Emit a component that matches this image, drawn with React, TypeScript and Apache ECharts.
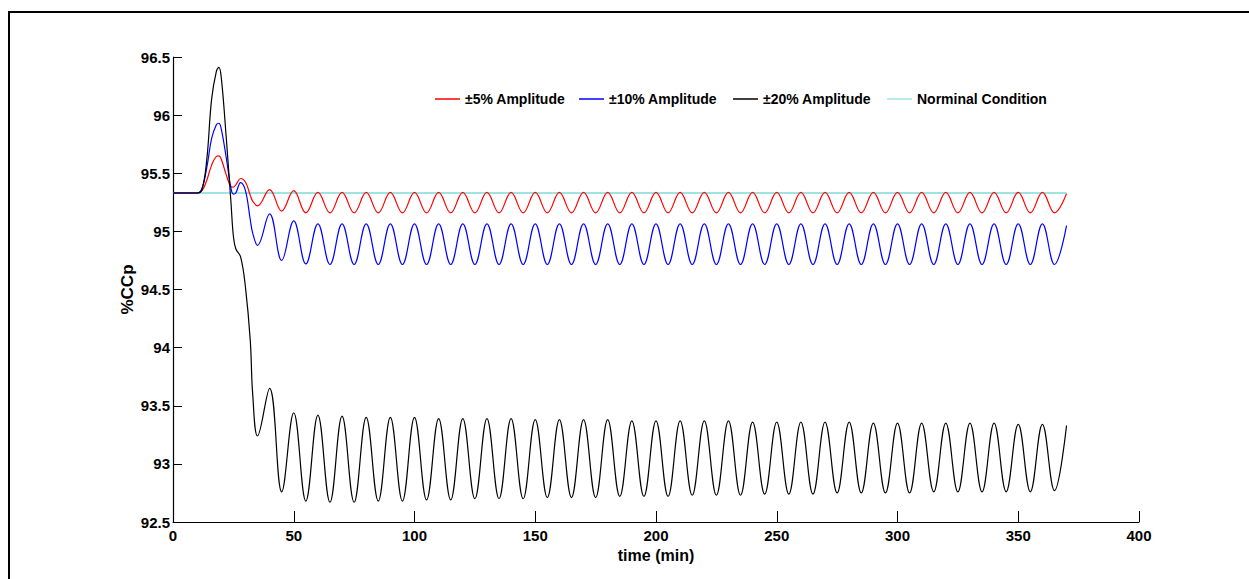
import React, { useEffect, useRef } from "react";
import * as echarts from "echarts";

// time grid (min)
const timeMin = [
  0, 10, 12, 14, 16, 18, 19, 20, 22, 24, 25, 26, 28, 30, 32, 33,
  35, 40, 45, 50, 55, 60, 65, 70, 75, 80, 85, 90, 95, 100, 105, 110, 115, 120,
  125, 130, 135, 140, 145, 150, 155, 160, 165, 170, 175, 180, 185, 190, 195, 200,
  205, 210, 215, 220, 225, 230, 235, 240, 245, 250, 255, 260, 265, 270, 275, 280,
  285, 290, 295, 300, 305, 310, 315, 320, 325, 330, 335, 340, 345, 350, 355, 360,
  365, 370,
];

// ±5% amplitude
const amp5 = [
  95.33, 95.33, 95.35, 95.44, 95.57, 95.645, 95.65, 95.62, 95.49, 95.385, 95.38, 95.40, 95.455, 95.425, 95.31, 95.26,
  95.22, 95.36, 95.175, 95.35, 95.16, 95.335, 95.16, 95.335, 95.16, 95.335, 95.16, 95.335, 95.16, 95.335, 95.16, 95.335, 95.16, 95.335,
  95.16, 95.335, 95.16, 95.335, 95.16, 95.335, 95.16, 95.335, 95.16, 95.335, 95.16, 95.335, 95.16, 95.335, 95.16, 95.335,
  95.16, 95.335, 95.16, 95.335, 95.16, 95.335, 95.16, 95.335, 95.16, 95.335, 95.16, 95.335, 95.16, 95.335, 95.16, 95.335,
  95.16, 95.335, 95.16, 95.335, 95.16, 95.335, 95.16, 95.335, 95.16, 95.335, 95.16, 95.335, 95.16, 95.335, 95.16, 95.335,
  95.16, 95.325,
];

// ±10% amplitude
const amp10 = [
  95.33, 95.33, 95.37, 95.55, 95.80, 95.92, 95.93, 95.88, 95.64, 95.37, 95.32, 95.33, 95.42, 95.35, 95.10, 94.985,
  94.88, 95.15, 94.75, 95.09, 94.72, 95.065, 94.715, 95.065, 94.715, 95.065, 94.715, 95.065, 94.715, 95.065, 94.715, 95.065, 94.715, 95.065,
  94.715, 95.065, 94.715, 95.065, 94.715, 95.065, 94.715, 95.065, 94.715, 95.065, 94.715, 95.065, 94.715, 95.065, 94.715, 95.065,
  94.715, 95.065, 94.715, 95.065, 94.715, 95.065, 94.715, 95.065, 94.715, 95.065, 94.715, 95.065, 94.715, 95.065, 94.715, 95.065,
  94.715, 95.065, 94.715, 95.065, 94.715, 95.065, 94.715, 95.065, 94.715, 95.065, 94.715, 95.065, 94.715, 95.065, 94.715, 95.065,
  94.715, 95.05,
];

// ±20% amplitude
const amp20 = [
  95.33, 95.33, 95.36, 95.62, 96.14, 96.38, 96.41, 96.32, 95.82, 95.25, 94.96, 94.85, 94.78, 94.52, 94.06, 93.60,
  93.24, 93.65, 92.76, 93.44, 92.68, 93.42, 92.67, 93.41, 92.67, 93.40, 92.68, 93.40, 92.68, 93.40, 92.69, 93.39, 92.69, 93.39,
  92.70, 93.39, 92.70, 93.39, 92.70, 93.38, 92.71, 93.38, 92.71, 93.38, 92.71, 93.38, 92.72, 93.37, 92.72, 93.37,
  92.72, 93.37, 92.73, 93.37, 92.73, 93.37, 92.73, 93.36, 92.74, 93.36, 92.74, 93.36, 92.74, 93.36, 92.75, 93.36,
  92.75, 93.35, 92.75, 93.35, 92.75, 93.35, 92.76, 93.35, 92.76, 93.35, 92.76, 93.35, 92.76, 93.34, 92.76, 93.34,
  92.77, 93.33,
];

// nominal condition
const nominalTime = [0, 370];
const nominalValue = [95.33, 95.33];

const seriesNames = ["±5% Amplitude", "±10% Amplitude", "±20% Amplitude", "Norminal Condition"];
const seriesColors = ["#ff0000", "#0000ff", "#000000", "#9fe3e3"];
const legendLefts = [430, 574, 728, 882];

const FONT = "'Liberation Sans', Arial, sans-serif";

export default function App() {
  const ref = useRef<HTMLDivElement>(null);
  useEffect(() => {
    if (!ref.current) return;
    const chart = echarts.init(ref.current, undefined, { renderer: "svg" });
    const pairs = (vals: number[]) => timeMin.map((t, i) => [t, vals[i]]);
    const lineSeries = (name: string, data: number[][], color: string, width: number) => ({
      name,
      type: "line",
      data,
      smooth: 0.4,
      symbol: "none",
      showSymbol: false,
      lineStyle: { color, width },
      itemStyle: { color },
    });
    chart.setOption({
      animation: false,
      backgroundColor: "#ffffff",
      textStyle: { fontFamily: FONT },
      grid: { left: 173, right: 110, top: 57, bottom: 57, containLabel: false },
      legend: seriesNames.map((n, i) => ({
        data: [n],
        left: legendLefts[i],
        top: 87,
        icon: "rect",
        itemWidth: 25,
        itemHeight: 1.5,
        itemGap: 0,
        textStyle: { fontFamily: FONT, fontWeight: "bold", fontSize: 14, color: "#000" },
        selectedMode: false,
      })),
      xAxis: {
        type: "value",
        min: 0,
        max: 400,
        interval: 50,
        name: "time (min)",
        nameLocation: "middle",
        nameGap: 24,
        nameTextStyle: { fontFamily: FONT, fontWeight: "bold", fontSize: 16, color: "#000" },
        axisLine: { show: true, onZero: false, lineStyle: { color: "#000", width: 1.2 } },
        axisTick: { show: true, inside: true, length: 11, lineStyle: { color: "#000", width: 1 } },
        axisLabel: { margin: 6, fontFamily: FONT, fontWeight: "bold", fontSize: 15, color: "#000" },
        splitLine: { show: false },
      },
      yAxis: {
        type: "value",
        min: 92.5,
        max: 96.5,
        interval: 0.5,
        name: "%CCp",
        nameLocation: "middle",
        nameGap: 37,
        nameMoveOverlap: false,
        nameTextStyle: { fontFamily: FONT, fontWeight: "bold", fontSize: 17, color: "#000" },
        axisLine: { show: true, onZero: false, lineStyle: { color: "#000", width: 1.2 } },
        axisTick: { show: true, inside: true, length: 9, lineStyle: { color: "#000", width: 1 } },
        axisLabel: { margin: 3, fontFamily: FONT, fontWeight: "bold", fontSize: 15, color: "#000" },
        splitLine: { show: false },
      },
      graphic: [
        {
          type: "rect",
          shape: { x: 9, y: 12, width: 1300, height: 620 },
          style: { fill: "none", stroke: "#000", lineWidth: 2 },
          silent: true,
        },
      ],
      series: [
        {
          name: seriesNames[3],
          type: "line",
          data: nominalTime.map((t, i) => [t, nominalValue[i]]),
          symbol: "none",
          showSymbol: false,
          lineStyle: { color: seriesColors[3], width: 2 },
          itemStyle: { color: seriesColors[3] },
        },
        lineSeries(seriesNames[0], pairs(amp5), seriesColors[0], 1.2),
        lineSeries(seriesNames[1], pairs(amp10), seriesColors[1], 1.2),
        lineSeries(seriesNames[2], pairs(amp20), seriesColors[2], 1.2),
      ],
    });
    return () => chart.dispose();
  }, []);
  return (
    <div
      ref={ref}
      style={{ position: "fixed", left: 0, top: 0, width: 1249, height: 579, background: "#fff" }}
    />
  );
}
